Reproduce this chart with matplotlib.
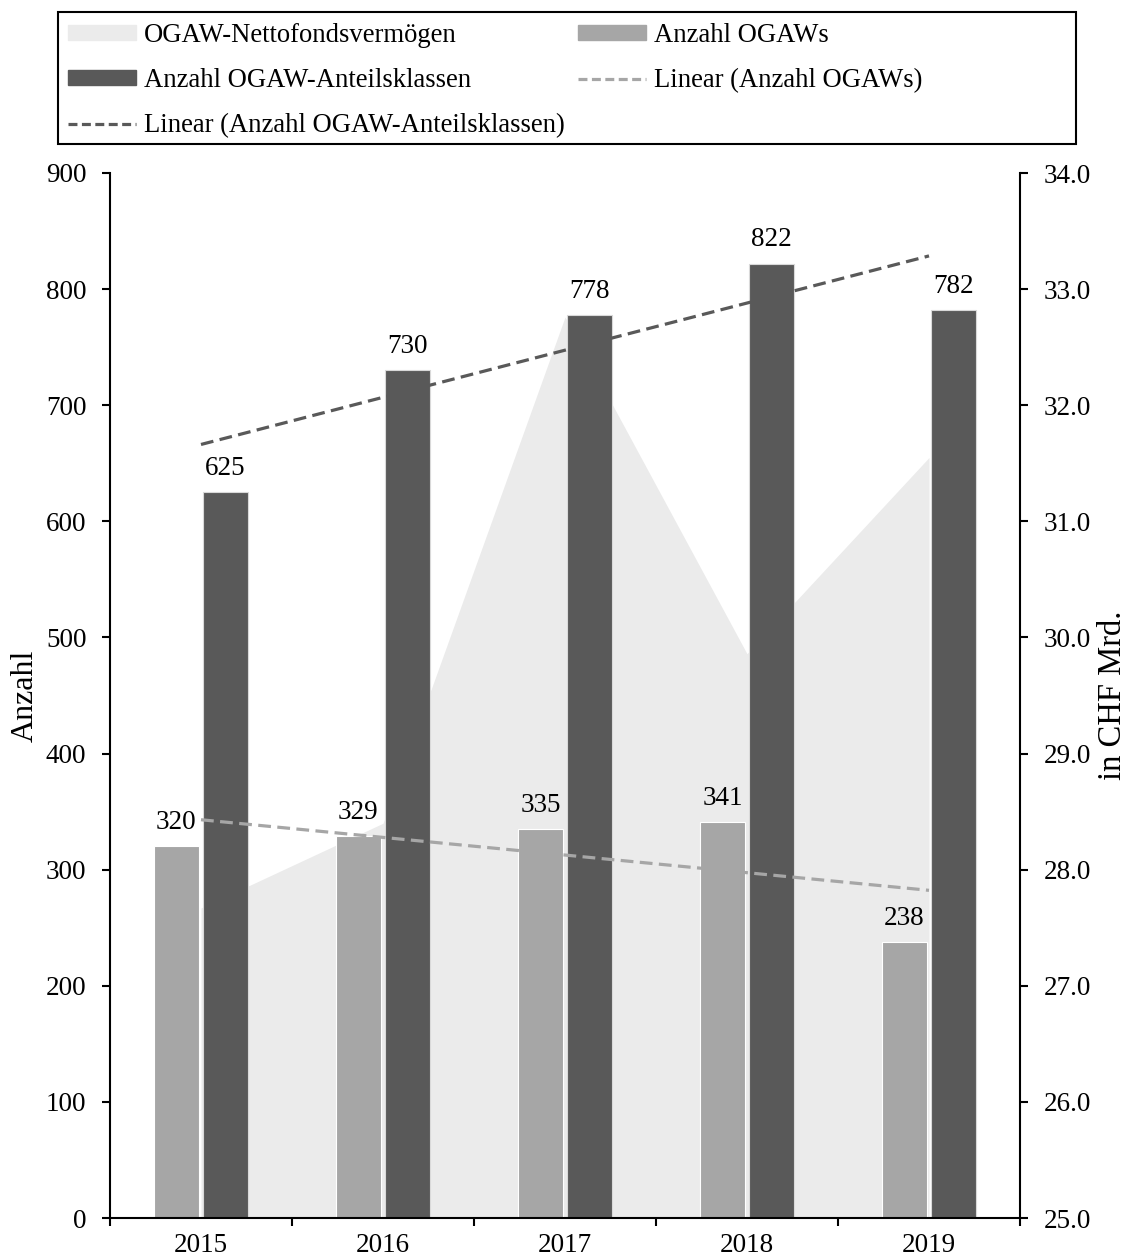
import numpy as np
import matplotlib
matplotlib.use('Agg')
import matplotlib.pyplot as plt
from matplotlib.patches import Patch, Rectangle
from matplotlib.lines import Line2D

plt.rcParams['font.family'] = ['Liberation Serif', 'DejaVu Serif']

# Daten
jahre = ['2015', '2016', '2017', '2018', '2019']
anzahl_ogaws = [320, 329, 335, 341, 238]
anzahl_anteilsklassen = [625, 730, 778, 822, 782]
nettofondsvermoegen = [27.67, 28.40, 32.76, 29.86, 31.55]  # in CHF Mrd.

col_area = '#ebebeb'
col_hell = '#a6a6a6'
col_dunkel = '#595959'
fs = 19.5

fig = plt.figure(figsize=(11.31, 12.58), dpi=100)
ax = fig.add_axes([110 / 1131, 1 - 1218 / 1258, 910 / 1131, (1218 - 173) / 1258])
ax2 = ax.twinx()

x = np.arange(len(jahre))
breite = 0.25

# Flaeche (rechte Achse) hinter den Balken
ax2.fill_between(x, 25, nettofondsvermoegen, color=col_area, linewidth=0)
ax2.set_ylim(25, 34)
ax2.set_yticks(np.arange(25, 35, 1))
ax2.yaxis.set_major_formatter(matplotlib.ticker.FormatStrFormatter('%.1f'))

ax.set_zorder(ax2.get_zorder() + 1)
ax.patch.set_visible(False)

b1 = ax.bar(x - 0.135, anzahl_ogaws, breite, color=col_hell, edgecolor='white', linewidth=0.8, zorder=2)
b2 = ax.bar(x + 0.135, anzahl_anteilsklassen, breite, color=col_dunkel, edgecolor='#d9d9d9', linewidth=0.8, zorder=2)
ax.bar_label(b1, padding=8, fontsize=fs)
ax.bar_label(b2, padding=8, fontsize=fs)

# lineare Trendlinien
xt = np.arange(1, len(jahre) + 1)
k1, d1 = np.polyfit(xt, anzahl_ogaws, 1)
k2, d2 = np.polyfit(xt, anzahl_anteilsklassen, 1)
ax.plot(x, k1 * xt + d1, color=col_hell, lw=2.3, dashes=(4, 2), zorder=3)
ax.plot(x, k2 * xt + d2, color=col_dunkel, lw=2.3, dashes=(4, 2), zorder=3)

ax.set_xlim(-0.5, len(jahre) - 0.5)
ax.set_ylim(0, 900)
ax.set_yticks(np.arange(0, 901, 100))
ax.set_xticks(x)
ax.set_xticklabels(jahre)
ax.set_xticks(np.arange(-0.5, len(jahre), 1), minor=True)
ax.tick_params(axis='x', which='major', length=0, pad=11, labelsize=fs)
ax.tick_params(axis='x', which='minor', length=6, width=1.5, direction='out')
ax.tick_params(axis='y', length=6, width=1.5, pad=11, labelsize=fs)
ax2.tick_params(axis='y', length=6, width=1.5, pad=11, labelsize=fs)

for s in ['top', 'right']:
    ax.spines[s].set_visible(False)
for s in ['top', 'left', 'bottom']:
    ax2.spines[s].set_visible(False)
for s in ['left', 'bottom']:
    ax.spines[s].set_linewidth(1.5)
ax2.spines['right'].set_linewidth(1.5)

ax.set_ylabel('Anzahl', fontsize=23)
ax.yaxis.set_label_coords(-0.077, 0.5)
ax2.set_ylabel('in CHF Mrd.', fontsize=23.5)
ax2.yaxis.set_label_coords(1.085, 0.5)

# Legende
handles = [
    Patch(color=col_area),
    Patch(color=col_dunkel),
    Line2D([], [], color=col_dunkel, lw=2.3, dashes=(2.8, 1.4)),
    Patch(color=col_hell),
    Line2D([], [], color=col_hell, lw=2.3, dashes=(2.8, 1.4)),
]
labels = [
    'OGAW-Nettofondsvermögen',
    'Anzahl OGAW-Anteilsklassen',
    'Linear (Anzahl OGAW-Anteilsklassen)',
    'Anzahl OGAWs',
    'Linear (Anzahl OGAWs)',
]
fig.legend(handles, labels, ncols=2, loc='upper left',
           bbox_to_anchor=(68 / 1131, 1 - 23 / 1258), frameon=False,
           fontsize=19.2, handlelength=2.55, handleheight=0.5, handletextpad=0.3,
           columnspacing=0.5, labelspacing=0.76, borderpad=0, borderaxespad=0)
fig.patches.append(Rectangle((58 / 1131, 1 - 144 / 1258), 1018 / 1131, 132 / 1258,
                             transform=fig.transFigure, fill=False,
                             edgecolor='black', linewidth=1.5))

fig.savefig('out.png', dpi=100)
